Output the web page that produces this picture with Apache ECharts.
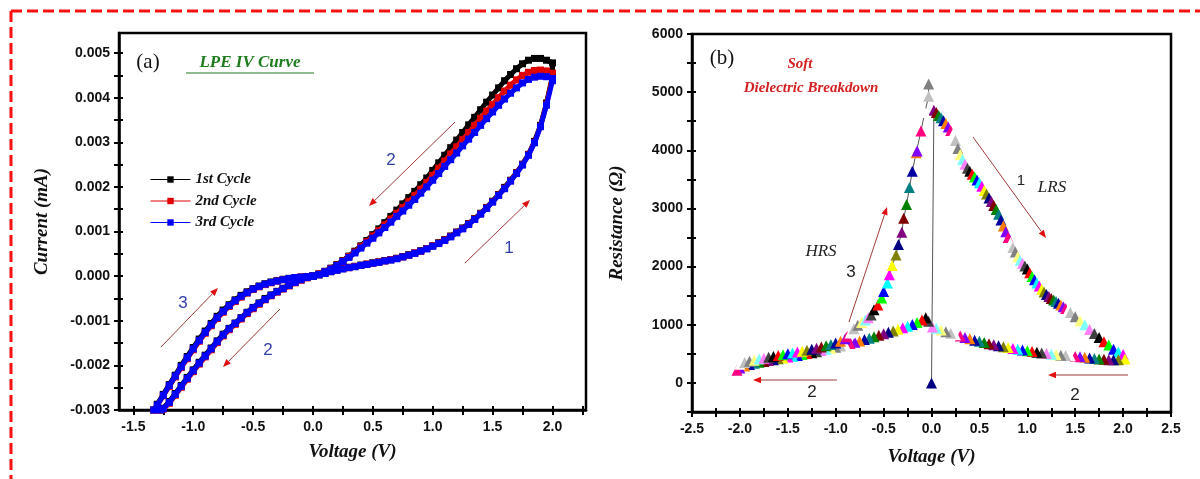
<!DOCTYPE html>
<html>
<head>
<meta charset="utf-8">
<script src="https://cdn.jsdelivr.net/npm/echarts@6/dist/echarts.min.js"></script>
<style>
html,body{margin:0;padding:0;background:#fff;}
#chart{width:1200px;height:479px;}
</style>
</head>
<body>
<div id="chart"></div>
<script>
// ---------- Panel (a): I-V loops ----------
const seriesNames = ['1st Cycle', '2nd Cycle', '3rd Cycle'];
const xTicksA = [-1.5, -1.0, -0.5, 0.0, 0.5, 1.0, 1.5, 2.0];
const xMinorA = [-1.5,-1.25,-1.0,-0.75,-0.5,-0.25,0,0.25,0.5,0.75,1.0,1.25,1.5,1.75,2.0,2.25];

// positive voltages (forward sweep 0 -> 2 and return 2 -> 0 use the same voltages)
const vPos = [0,0.05,0.1,0.15,0.2,0.25,0.3,0.35,0.4,0.45,0.5,0.55,0.6,0.65,0.7,0.75,0.8,0.85,0.9,0.95,1,1.05,1.1,1.15,1.2,1.25,1.3,1.35,1.4,1.45,1.5,1.55,1.6,1.65,1.7,1.75,1.8,1.85,1.9,1.95,2];
// branch "1": 0 -> 2 V (lower curve)
const c1Rise = [0,0.00003,0.00007,0.00011,0.00014,0.00017,0.0002,0.00022,0.00025,0.00027,0.0003,0.00032,0.00035,0.00037,0.0004,0.00044,0.00048,0.00052,0.00057,0.00062,0.00068,0.00075,0.00082,0.0009,0.00099,0.00108,0.00118,0.00129,0.00141,0.00154,0.00168,0.00183,0.00199,0.00215,0.00232,0.00251,0.00273,0.00302,0.00338,0.00388,0.00448];
const c2Rise = [0,0.00003,0.00007,0.0001,0.00014,0.00017,0.00019,0.00022,0.00024,0.00027,0.00029,0.00032,0.00034,0.00037,0.0004,0.00043,0.00047,0.00052,0.00056,0.00062,0.00068,0.00074,0.00081,0.00089,0.00098,0.00107,0.00117,0.00128,0.0014,0.00153,0.00167,0.00182,0.00197,0.00214,0.00231,0.0025,0.00272,0.003,0.00336,0.00385,0.00445];
const c3Rise = [0,0.00003,0.00006,0.0001,0.00013,0.00016,0.00019,0.00021,0.00024,0.00026,0.00029,0.00031,0.00034,0.00036,0.00039,0.00043,0.00047,0.00051,0.00056,0.00061,0.00067,0.00073,0.0008,0.00088,0.00097,0.00106,0.00116,0.00127,0.00139,0.00152,0.00166,0.00181,0.00196,0.00213,0.0023,0.00249,0.00271,0.00299,0.00335,0.00383,0.00438];
// branch "2": 2 -> 0 V (upper curve), listed at ascending voltage
const c1Return = [0,0.00005,0.00011,0.00018,0.00026,0.00035,0.00045,0.00056,0.00068,0.0008,0.00093,0.00106,0.0012,0.00134,0.00148,0.00162,0.00176,0.0019,0.00205,0.0022,0.00237,0.00254,0.00271,0.00288,0.00305,0.00322,0.00339,0.00356,0.00373,0.0039,0.00406,0.00422,0.00438,0.00452,0.00465,0.00476,0.00484,0.00488,0.00488,0.00484,0.00478];
const c2Return = [0,0.00005,0.0001,0.00017,0.00025,0.00034,0.00044,0.00054,0.00066,0.00077,0.0009,0.00102,0.00115,0.00128,0.00141,0.00154,0.00167,0.00181,0.00195,0.0021,0.00226,0.00242,0.00258,0.00274,0.0029,0.00306,0.00322,0.00338,0.00354,0.0037,0.00385,0.004,0.00415,0.00428,0.0044,0.0045,0.00457,0.00461,0.00462,0.0046,0.00455];
const c3Return = [0,0.00004,0.0001,0.00016,0.00024,0.00033,0.00042,0.00052,0.00063,0.00074,0.00085,0.00097,0.00109,0.00121,0.00134,0.00146,0.00159,0.00172,0.00186,0.002,0.00215,0.0023,0.00246,0.00261,0.00276,0.00292,0.00307,0.00322,0.00338,0.00353,0.00368,0.00383,0.00397,0.0041,0.00422,0.00433,0.00441,0.00446,0.00448,0.00447,0.00443];
// branch "2" continued: 0 -> negative
const vSweep = [0,-0.05,-0.1,-0.15,-0.2,-0.25,-0.3,-0.35,-0.4,-0.45,-0.5,-0.55,-0.6,-0.65,-0.7,-0.75,-0.8,-0.85,-0.9,-0.95,-1,-1.05,-1.1,-1.15,-1.2,-1.25,-1.27];
const c1Sweep = [0,-0.00003,-0.00008,-0.00014,-0.0002,-0.00027,-0.00034,-0.00042,-0.0005,-0.0006,-0.0007,-0.00081,-0.00093,-0.00105,-0.00117,-0.0013,-0.00145,-0.00161,-0.00177,-0.00193,-0.0021,-0.00227,-0.00245,-0.00263,-0.00281,-0.00296,-0.003];
const c2Sweep = [0,-0.00004,-0.00009,-0.00015,-0.00022,-0.00029,-0.00036,-0.00044,-0.00053,-0.00063,-0.00073,-0.00084,-0.00096,-0.00108,-0.0012,-0.00134,-0.00149,-0.00165,-0.00181,-0.00197,-0.00214,-0.00231,-0.00249,-0.00267,-0.00285,-0.00298,-0.003];
const c3Sweep = [0,-0.00003,-0.00008,-0.00014,-0.00021,-0.00028,-0.00035,-0.00043,-0.00052,-0.00061,-0.00071,-0.00082,-0.00094,-0.00106,-0.00118,-0.00132,-0.00147,-0.00163,-0.00179,-0.00195,-0.00212,-0.00229,-0.00247,-0.00265,-0.00283,-0.00297,-0.003];
// branch "3": negative -> 0
const vBack = [-1.33,-1.3,-1.25,-1.2,-1.15,-1.1,-1.05,-1,-0.95,-0.9,-0.85,-0.8,-0.75,-0.7,-0.65,-0.6,-0.55,-0.5,-0.45,-0.4,-0.35,-0.3,-0.25,-0.2,-0.15,-0.1,-0.05,0];
const c1Back = [-0.003,-0.00287,-0.00265,-0.00243,-0.00222,-0.002,-0.0018,-0.0016,-0.00141,-0.00123,-0.00106,-0.0009,-0.00076,-0.00064,-0.00053,-0.00043,-0.00035,-0.00028,-0.00022,-0.00017,-0.00013,-0.0001,-0.00007,-0.00005,-0.00003,-0.00002,-0.00001,0];
const c2Back = [-0.003,-0.0029,-0.00268,-0.00247,-0.00226,-0.00205,-0.00185,-0.00165,-0.00146,-0.00128,-0.00111,-0.00095,-0.00081,-0.00068,-0.00057,-0.00047,-0.00038,-0.0003,-0.00024,-0.00019,-0.00015,-0.00011,-0.00008,-0.00006,-0.00004,-0.00002,-0.00001,0];
const c3Back = [-0.003,-0.00289,-0.00267,-0.00245,-0.00224,-0.00203,-0.00183,-0.00163,-0.00144,-0.00126,-0.00109,-0.00093,-0.00079,-0.00066,-0.00055,-0.00045,-0.00037,-0.00029,-0.00023,-0.00018,-0.00014,-0.00011,-0.00008,-0.00005,-0.00003,-0.00002,-0.00001,0];

// ---------- Panel (b): resistance ----------
// branch 1 (LRS): 0 -> 2 V
const rV1 = [0,0.025,0.05,0.075,0.1,0.125,0.15,0.175,0.2,0.225,0.25,0.275,0.3,0.325,0.35,0.375,0.4,0.425,0.45,0.475,0.5,0.525,0.55,0.575,0.6,0.625,0.65,0.675,0.7,0.725,0.75,0.775,0.8,0.825,0.85,0.875,0.9,0.925,0.95,0.975,1,1.025,1.05,1.075,1.1,1.125,1.15,1.175,1.2,1.225,1.25,1.275,1.3,1.325,1.35,1.375,1.4,1.425,1.45,1.5,1.55,1.6,1.65,1.7,1.75,1.8,1.85,1.9,1.95,2];
const rR1 = [0,4690,4650,4600,4560,4510,4460,4400,4340,4280,4170,4030,3930,3840,3760,3690,3640,3590,3540,3490,3440,3380,3310,3250,3180,3120,3050,2980,2900,2800,2700,2600,2500,2410,2330,2250,2170,2110,2060,2010,1960,1895,1830,1775,1720,1665,1610,1565,1520,1485,1450,1425,1400,1370,1340,1310,1280,1245,1210,1140,1070,1000,920,850,780,710,650,580,530,490];
// branch 2: 2 -> 0 V
const rV2 = [2.02,1.95,1.9,1.85,1.8,1.75,1.7,1.65,1.6,1.55,1.5,1.45,1.4,1.35,1.3,1.25,1.2,1.15,1.1,1.05,1,0.95,0.9,0.85,0.8,0.75,0.7,0.65,0.6,0.55,0.5,0.45,0.4,0.35,0.3,0.25,0.2,0.15,0.1,0.05,0.01];
const rR2 = [410,400,400,400,405,410,420,430,440,448,455,462,470,478,486,495,505,515,527,540,552,565,578,592,607,622,640,657,675,695,715,735,758,782,805,830,855,882,910,940,960];
// branch 2 continued: 0 -> -2 V
const rV3 = [-0.03,-0.06,-0.1,-0.15,-0.2,-0.25,-0.3,-0.35,-0.4,-0.45,-0.5,-0.55,-0.6,-0.65,-0.7,-0.75,-0.8,-0.85,-0.9,-0.95,-1,-1.05,-1.1,-1.15,-1.2,-1.25,-1.3,-1.35,-1.4,-1.45,-1.5,-1.55,-1.6,-1.65,-1.7,-1.75,-1.8,-1.85,-1.9,-1.95,-2,-2.03];
const rR3 = [1060,1120,1080,1040,1005,975,950,922,895,870,845,820,795,770,745,722,700,678,656,635,615,595,575,556,538,520,504,488,473,458,444,430,415,400,385,370,354,337,318,292,255,220];
// branch 3 (HRS): -2 -> 0 V
const rV4 = [-2,-1.95,-1.9,-1.85,-1.8,-1.75,-1.7,-1.65,-1.6,-1.55,-1.5,-1.45,-1.4,-1.35,-1.3,-1.25,-1.2,-1.15,-1.1,-1.05,-1,-0.95,-0.9,-0.88,-0.85,-0.81,-0.77,-0.73,-0.69,-0.66,-0.63,-0.6,-0.56,-0.52,-0.5,-0.46,-0.44,-0.41,-0.37,-0.345,-0.31,-0.29,-0.26,-0.23,-0.2,-0.16,-0.15,-0.11,-0.07,-0.03,-0.03];
const rR4 = [320,350,372,392,410,425,440,455,470,485,500,515,530,546,562,580,598,618,640,662,688,718,760,800,860,930,990,1040,1080,1120,1170,1260,1340,1460,1570,1720,1860,2020,2200,2380,2590,2830,3070,3360,3640,3960,3990,4330,4650,4930,5140];

// Origin default colour cycle used for the triangles
const originPalette = ['#000000','#FF0000','#00FF00','#0000FF','#00FFFF','#FF00FF','#FFFF00','#808000','#000080','#800080','#800000','#008000','#008080','#0000A0','#FF8000','#8000FF','#FF0080','#FFFFFF','#C0C0C0','#808080','#FFFF80','#80FFFF','#FF80FF','#404040'];

// ---------- build ----------
function pairs(xs, ys) { return xs.map((x, i) => [x, ys[i]]); }
function loop(rise, ret, sweep, back) {
  return [].concat(pairs(vPos, rise), pairs(vPos, ret).reverse(), pairs(vSweep, sweep), pairs(vBack, back));
}
const loops = [
  loop(c1Rise, c1Return, c1Sweep, c1Back),
  loop(c2Rise, c2Return, c2Sweep, c2Back),
  loop(c3Rise, c3Return, c3Sweep, c3Back)
];
const loopColors = ['#000000', '#e00000', '#0000ff'];
const resData = [].concat(pairs(rV1, rR1), pairs(rV2, rR2), pairs(rV3, rR3), pairs(rV4, rR4));
const palOffset = (((19 - (resData.length - 1)) % 24) + 24) % 24;

const tickFont = { fontFamily: 'Liberation Sans', fontWeight: 'bold', fontSize: 14, color: '#111' };
const titleFont = { fontFamily: 'Liberation Serif', fontWeight: 'bold', fontStyle: 'italic', fontSize: 19, color: '#111' };
const axisLineStyle = { color: '#000', width: 2.5 };
const tickLine = { color: '#000', width: 2 };

function innerAxis(base, pos) {
  return Object.assign({}, base, {
    name: '', position: pos, offset: 0,
    axisLine: { show: false, onZero: false },
    axisLabel: { show: false },
    axisTick: Object.assign({}, base.axisTick, { inside: true, length: 4 }),
    splitLine: { show: false }
  });
}

const xA = {
  type: 'value', position: 'bottom', min: -1.62, max: 2.28,
  name: 'Voltage (V)', nameLocation: 'middle', nameGap: 33, nameTextStyle: titleFont,
  axisLine: { lineStyle: axisLineStyle, onZero: false },
  axisTick: { show: true, length: 5, lineStyle: tickLine, customValues: xMinorA },
  axisLabel: Object.assign({ margin: 10, customValues: xTicksA, formatter: v => Number(v).toFixed(1) }, tickFont),
  splitLine: { show: false }
};
const yA = {
  type: 'value', position: 'left', min: -0.003, max: 0.00545, interval: 0.0005,
  name: 'Current (mA)', nameLocation: 'middle', nameGap: 67, nameTextStyle: titleFont,
  axisLine: { lineStyle: axisLineStyle, onZero: false },
  axisTick: { show: true, length: 5, lineStyle: tickLine },
  axisLabel: Object.assign({ margin: 9, showMaxLabel: false, formatter: v => {
    const k = v * 1000; return Math.abs(k - Math.round(k)) < 1e-6 ? (Math.round(k) / 1000).toFixed(3) : '';
  } }, tickFont),
  splitLine: { show: false }
};
const xB = {
  type: 'value', position: 'bottom', min: -2.5, max: 2.5, interval: 0.25,
  name: 'Voltage (V)', nameLocation: 'middle', nameGap: 36, nameTextStyle: titleFont,
  axisLine: { lineStyle: axisLineStyle, onZero: false },
  axisTick: { show: true, length: 5, lineStyle: tickLine },
  axisLabel: Object.assign({ margin: 10, formatter: v => {
    const k = v * 2; return Math.abs(k - Math.round(k)) < 1e-6 ? (Math.round(k) / 2).toFixed(1) : '';
  } }, tickFont),
  splitLine: { show: false }
};
const yB = {
  type: 'value', position: 'left', min: -500, max: 6000, interval: 500,
  name: 'Resistance (\u03A9)', nameLocation: 'middle', nameGap: 65, nameTextStyle: titleFont,
  axisLine: { lineStyle: axisLineStyle, onZero: false },
  axisTick: { show: true, length: 5, lineStyle: tickLine },
  axisLabel: Object.assign({ margin: 9, formatter: v => (Math.round(v) % 1000 === 0 ? String(Math.round(v)) : '') }, tickFont),
  splitLine: { show: false }
};

// ---------- annotations ----------
const annColor = '#a03a3a';
function arrow(x1, y1, x2, y2) {
  const a = Math.atan2(y2 - y1, x2 - x1), L = 8, W = 3.2;
  const bx = x2 - L * Math.cos(a), by = y2 - L * Math.sin(a);
  const px = -Math.sin(a) * W, py = Math.cos(a) * W;
  return [
    { type: 'line', z: 100, shape: { x1: x1, y1: y1, x2: bx, y2: by }, style: { stroke: annColor, lineWidth: 1 } },
    { type: 'polygon', z: 100, shape: { points: [[x2, y2], [bx + px, by + py], [bx - px, by - py]] }, style: { fill: '#e01010' } }
  ];
}
function label(text, x, y, font, fill) {
  return { type: 'text', z: 100, x: x, y: y, style: { text: text, font: font, fill: fill, align: 'center', verticalAlign: 'middle' } };
}
const numFont = '17px "Liberation Sans"';
const numBlue = '#3340a8';
const graphics = [].concat(
  [
    { type: 'line', z: 100, shape: { x1: 11, y1: 11, x2: 1200, y2: 11 }, style: { stroke: '#ff1010', lineWidth: 3, lineDash: [11, 5] } },
    { type: 'line', z: 100, shape: { x1: 11, y1: 11, x2: 11, y2: 479 }, style: { stroke: '#ff1010', lineWidth: 3, lineDash: [11, 5] } },
    label('(a)', 148, 62, '21px "Liberation Serif"', '#111'),
    label('LPE IV Curve', 250, 63, 'italic bold 17px "Liberation Serif"', '#1e7b1e'),
    { type: 'line', z: 100, shape: { x1: 186, y1: 73, x2: 314, y2: 73 }, style: { stroke: '#1e7b1e', lineWidth: 1.2 } },
    label('2', 391, 160, numFont, numBlue),
    label('1', 509, 248, numFont, numBlue),
    label('3', 183, 303, numFont, numBlue),
    label('2', 268, 350, numFont, numBlue),
    label('(b)', 722, 58, '21px "Liberation Serif"', '#111'),
    label('Soft', 800, 64, 'italic bold 15px "Liberation Serif"', '#d42020'),
    label('Dielectric Breakdown', 811, 88, 'italic bold 15px "Liberation Serif"', '#d42020'),
    label('1', 1021, 181, '15px "Liberation Sans"', '#222'),
    label('LRS', 1052, 188, 'italic 17px "Liberation Serif"', '#222'),
    label('HRS', 821, 252, 'italic 17px "Liberation Serif"', '#222'),
    label('3', 851, 272, '17px "Liberation Sans"', '#222'),
    label('2', 812, 392, '17px "Liberation Sans"', '#222'),
    label('2', 1075, 395, '17px "Liberation Sans"', '#222')
  ],
  arrow(455, 122, 369, 206),
  arrow(465, 263, 530, 200),
  arrow(161, 347, 218, 288),
  arrow(280, 309, 223, 367),
  arrow(973, 137, 1046, 238),
  arrow(849, 322, 887, 207),
  arrow(837, 380, 753, 380),
  arrow(1128, 375, 1048, 375)
);

const series = loops.map((d, i) => ({
  name: seriesNames[i], type: 'line', xAxisIndex: 0, yAxisIndex: 0,
  data: d, symbol: 'rect', symbolSize: 7, showAllSymbol: true,
  itemStyle: { color: loopColors[i] }, lineStyle: { color: loopColors[i], width: 5 },
  z: 2 + i
}));
series.push({
  name: 'Resistance', type: 'line', xAxisIndex: 2, yAxisIndex: 2,
  data: resData, symbol: 'triangle', symbolSize: 11, showAllSymbol: true,
  lineStyle: { color: '#555', width: 1 },
  itemStyle: { color: p => originPalette[(p.dataIndex + palOffset) % 24] },
  z: 5
});

const xAxes = [
  Object.assign({}, xA, { gridIndex: 0 }),
  Object.assign(innerAxis(xA, 'bottom'), { gridIndex: 0 }),
  Object.assign({}, xB, { gridIndex: 1 }),
  Object.assign(innerAxis(xB, 'bottom'), { gridIndex: 1 })
];
const yAxes = [
  Object.assign({}, yA, { gridIndex: 0 }),
  Object.assign(innerAxis(yA, 'left'), { gridIndex: 0 }),
  Object.assign({}, yB, { gridIndex: 1 }),
  Object.assign(innerAxis(yB, 'left'), { gridIndex: 1 })
];

const chart = echarts.init(document.getElementById('chart'), null, { renderer: 'canvas' });
chart.setOption({
  animation: false,
  backgroundColor: '#ffffff',
  grid: [
    { left: 119, right: 614, top: 33, bottom: 69, show: true, borderColor: '#000', borderWidth: 2.5, backgroundColor: 'transparent' },
    { left: 692, right: 29, top: 34, bottom: 67, show: true, borderColor: '#000', borderWidth: 2.5, backgroundColor: 'transparent' }
  ],
  legend: {
    data: seriesNames, orient: 'vertical', left: 145, top: 167,
    itemGap: 6.5, itemWidth: 40, itemHeight: 8,
    textStyle: { fontFamily: 'Liberation Serif', fontStyle: 'italic', fontWeight: 'bold', fontSize: 15, color: '#111', lineHeight: 15 },
    lineStyle: { width: 1 }
  },
  xAxis: xAxes,
  yAxis: yAxes,
  series: series,
  graphic: graphics
});
</script>
</body>
</html>
